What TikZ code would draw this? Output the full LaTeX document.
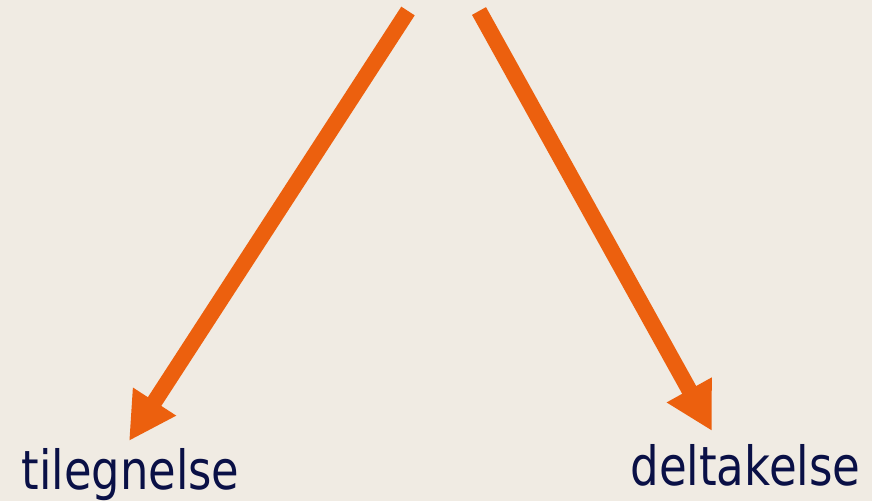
\documentclass[tikz,border=0pt]{standalone}
\usepackage{fontspec}
\usepackage{graphicx}
\setmainfont{DejaVu Sans}
\usetikzlibrary{arrows.meta}
\definecolor{bgc}{RGB}{240,235,227}
\definecolor{arrowc}{RGB}{236,96,14}
\definecolor{textc}{RGB}{10,16,70}
\tikzset{
  bigarrow/.style={draw=arrowc, line width=16pt, line cap=butt,
    -{Triangle[length=47pt,width=48pt]}},
  label/.style={inner sep=0pt, anchor=base, text=textc,
    font=\fontsize{54}{60}\selectfont}
}
\begin{document}
\begin{tikzpicture}[x=1pt,y=-1pt]
\fill[bgc] (0,0) rectangle (872,501);
\useasboundingbox (0,0) rectangle (872,501);
\coordinate (s1) at (408,11);
\coordinate (t1) at (129,441);
\coordinate (s2) at (479,11);
\coordinate (t2) at (712,431);
\draw[bigarrow] (s1) -- (t1);
\draw[bigarrow] (s2) -- (t2);
\node[label] (til) at (130.5,489) {\scalebox{0.83}[1]{tilegnelse}};
\node[label] (del) at (745.5,485) {\scalebox{0.835}[1]{deltakelse}};
\end{tikzpicture}
\end{document}
